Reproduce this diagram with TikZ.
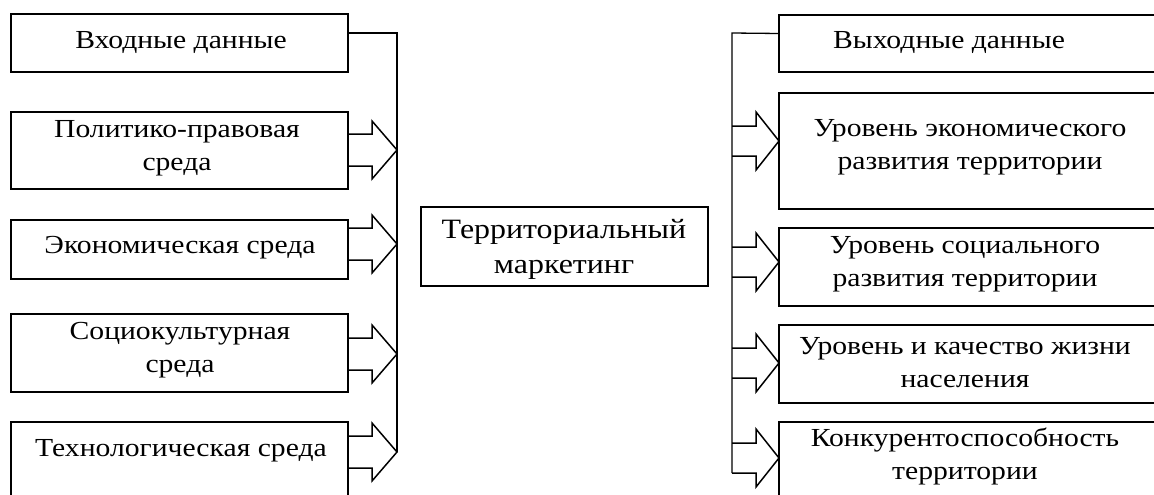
\documentclass[tikz,border=0pt]{standalone}
\usepackage{fontspec}
\setmainfont{Liberation Serif}[FakeStretch=1.14]
\begin{document}
\begin{tikzpicture}[x=1pt,y=-1pt,
  box/.style={draw,line width=1.5pt,rectangle,inner sep=0pt,outer sep=0pt,anchor=north west},
  txt/.style={align=center,font=\fontsize{26}{33}\selectfont,inner sep=0pt},
  txtc/.style={align=center,font=\fontsize{28}{35}\selectfont,inner sep=0pt},
  conn/.style={line width=1.3pt},
  larr/.pic={\draw[line width=1.5pt,line join=miter] (-49,-16) -- (-25,-16) -- (-25,-29) -- (0,0) -- (-25,29) -- (-25,16) -- (-49,16);},
  rarr/.pic={\draw[line width=1.5pt,line join=miter] (-47,-15) -- (-23,-15) -- (-23,-29) -- (0,0) -- (-23,29) -- (-23,15) -- (-47,15);}
]
\useasboundingbox (0,0) rectangle (1154,495);
\clip (0,0) rectangle (1154,495);
% left boxes
\node[box,minimum width=337pt,minimum height=58pt] (in) at (11,14) {};
\node[box,minimum width=337pt,minimum height=77pt] (pol) at (11,112) {};
\node[box,minimum width=337pt,minimum height=59pt] (eco) at (11,220) {};
\node[box,minimum width=337pt,minimum height=78pt] (soc) at (11,314) {};
\node[box,minimum width=337pt,minimum height=90pt] (tec) at (11,422) {};
\node[txt] at (181,43) {Входные данные};
\node[txt] at (177,148) {Политико-правовая\\среда};
\node[txt] at (180,248) {Экономическая среда};
\node[txt] at (180,350) {Социокультурная\\среда};
\node[txt] at (181,451) {Технологическая среда};
% centre
\node[box,minimum width=287pt,minimum height=79pt] (tm) at (421,207) {};
\node[txtc] at (564,249) {Территориальный\\маркетинг};
% right boxes
\node[box,minimum width=380pt,minimum height=57pt] (out) at (779,15) {};
\node[box,minimum width=380pt,minimum height=116pt] (r1) at (779,93) {};
\node[box,minimum width=380pt,minimum height=78pt] (r2) at (779,228) {};
\node[box,minimum width=380pt,minimum height=78pt] (r3) at (779,325) {};
\node[box,minimum width=380pt,minimum height=90pt] (r4) at (779,422) {};
\node[txt] at (949,43) {Выходные данные};
\node[txt] at (970,147) {Уровень экономического\\развития территории};
\node[txt] at (965,264) {Уровень социального\\развития территории};
\node[txt] at (965,363) {Уровень и качество жизни\\населения};
\node[txt] at (965,456) {Конкурентоспособность\\территории};
% left connector
\coordinate (lv) at (397,33);
\draw[conn] ([yshift=10pt]in.east) -- (lv) -- (397,452);
\pic at (397,150) {larr};
\pic at (397,244) {larr};
\pic at (397,354) {larr};
\pic at (397,452) {larr};
% right connector
\coordinate (rv) at (732,33);
\draw[conn] ([yshift=10pt]out.west) -- (rv) -- (732,473);
\pic at (779,141) {rarr};
\pic at (779,262) {rarr};
\pic at (779,363) {rarr};
\pic at (779,458) {rarr};
\end{tikzpicture}
\end{document}
